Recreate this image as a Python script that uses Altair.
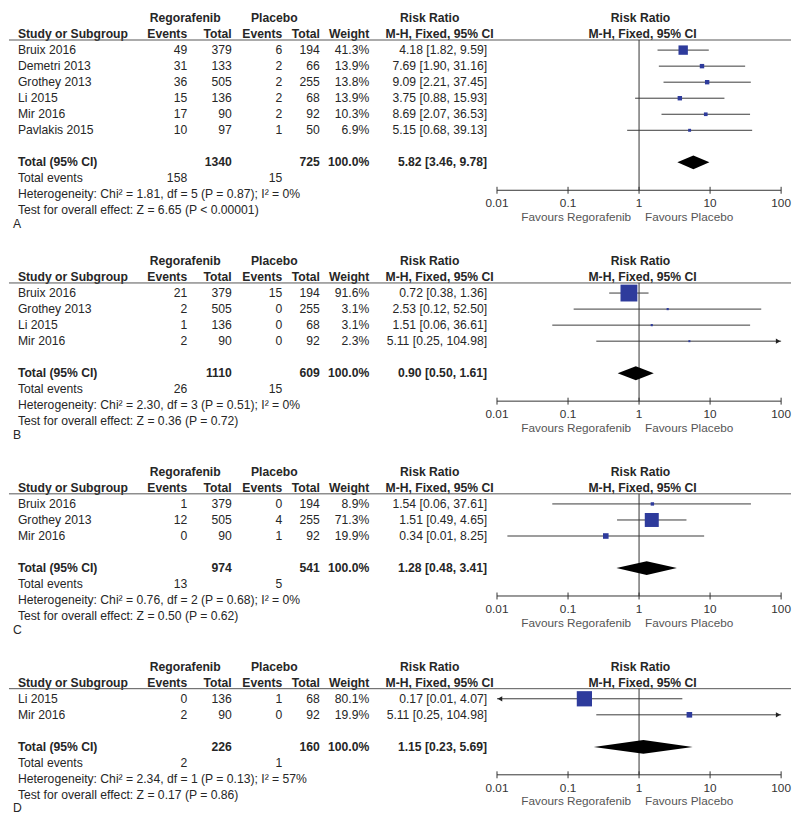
import altair as alt
import pandas as pd

# ---------------- data ----------------
A_study = ["Bruix 2016", "Demetri 2013", "Grothey 2013", "Li 2015", "Mir 2016", "Pavlakis 2015"]
A_reg_events = [49, 31, 36, 15, 17, 10]
A_reg_total = [379, 133, 505, 136, 90, 97]
A_pla_events = [6, 2, 2, 2, 2, 1]
A_pla_total = [194, 66, 255, 68, 92, 50]
A_weight = [41.3, 13.9, 13.8, 13.9, 10.3, 6.9]
A_rr = [4.18, 7.69, 9.09, 3.75, 8.69, 5.15]
A_lo = [1.82, 1.90, 2.21, 0.88, 2.07, 0.68]
A_hi = [9.59, 31.16, 37.45, 15.93, 36.53, 39.13]
A_total_n = [1340, 725]
A_total_events = [158, 15]
A_total_weight = 100.0
A_total_rr = [5.82, 3.46, 9.78]
A_het = "Heterogeneity: Chi² = 1.81, df = 5 (P = 0.87); I² = 0%"
A_test = "Test for overall effect: Z = 6.65 (P < 0.00001)"

B_study = ["Bruix 2016", "Grothey 2013", "Li 2015", "Mir 2016"]
B_reg_events = [21, 2, 1, 2]
B_reg_total = [379, 505, 136, 90]
B_pla_events = [15, 0, 0, 0]
B_pla_total = [194, 255, 68, 92]
B_weight = [91.6, 3.1, 3.1, 2.3]
B_rr = [0.72, 2.53, 1.51, 5.11]
B_lo = [0.38, 0.12, 0.06, 0.25]
B_hi = [1.36, 52.50, 36.61, 104.98]
B_total_n = [1110, 609]
B_total_events = [26, 15]
B_total_weight = 100.0
B_total_rr = [0.90, 0.50, 1.61]
B_het = "Heterogeneity: Chi² = 2.30, df = 3 (P = 0.51); I² = 0%"
B_test = "Test for overall effect: Z = 0.36 (P = 0.72)"

C_study = ["Bruix 2016", "Grothey 2013", "Mir 2016"]
C_reg_events = [1, 12, 0]
C_reg_total = [379, 505, 90]
C_pla_events = [0, 4, 1]
C_pla_total = [194, 255, 92]
C_weight = [8.9, 71.3, 19.9]
C_rr = [1.54, 1.51, 0.34]
C_lo = [0.06, 0.49, 0.014]
C_hi = [37.61, 4.65, 8.25]
C_total_n = [974, 541]
C_total_events = [13, 5]
C_total_weight = 100.0
C_total_rr = [1.28, 0.48, 3.41]
C_het = "Heterogeneity: Chi² = 0.76, df = 2 (P = 0.68); I² = 0%"
C_test = "Test for overall effect: Z = 0.50 (P = 0.62)"

D_study = ["Li 2015", "Mir 2016"]
D_reg_events = [0, 2]
D_reg_total = [136, 90]
D_pla_events = [1, 0]
D_pla_total = [68, 92]
D_weight = [80.1, 19.9]
D_rr = [0.17, 5.11]
D_lo = [0.007, 0.25]
D_hi = [4.07, 104.98]
D_total_n = [226, 160]
D_total_events = [2, 1]
D_total_weight = 100.0
D_total_rr = [1.15, 0.23, 5.69]
D_het = "Heterogeneity: Chi² = 2.34, df = 1 (P = 0.13); I² = 57%"
D_test = "Test for overall effect: Z = 0.17 (P = 0.86)"

tick_values = [0.01, 0.1, 1, 10, 100]
tick_labels = ["0.01", "0.1", "1", "10", "100"]
favours = ["Favours Regorafenib", "Favours Placebo"]
group_headers = ["Regorafenib", "Placebo", "Risk Ratio"]
col_headers = ["Study or Subgroup", "Events", "Total", "Events", "Total", "Weight", "M-H, Fixed, 95% CI"]

panels = [
    ("A", A_study, A_reg_events, A_reg_total, A_pla_events, A_pla_total, A_weight, A_rr, A_lo, A_hi,
     A_total_n, A_total_events, A_total_weight, A_total_rr, A_het, A_test),
    ("B", B_study, B_reg_events, B_reg_total, B_pla_events, B_pla_total, B_weight, B_rr, B_lo, B_hi,
     B_total_n, B_total_events, B_total_weight, B_total_rr, B_het, B_test),
    ("C", C_study, C_reg_events, C_reg_total, C_pla_events, C_pla_total, C_weight, C_rr, C_lo, C_hi,
     C_total_n, C_total_events, C_total_weight, C_total_rr, C_het, C_test),
    ("D", D_study, D_reg_events, D_reg_total, D_pla_events, D_pla_total, D_weight, D_rr, D_lo, D_hi,
     D_total_n, D_total_events, D_total_weight, D_total_rr, D_het, D_test),
]

# ---------------- layout ----------------
W, H = 790, 809
S = 16.2                              # px per text line
TOP = 5.0
GAPS = [3.15, 3.15, 3.15, 0]          # lines from "Test" row to next panel header
LETTER = 0.84
XMIN, XMAX = 0.01, 100.0
FONT = "Liberation Sans"
FS = 12.3
FS_AX = 11.9
TXT = "#262626"
BLUE = "#2E3B9C"

COL = dict(label=9, e1=180, n1=225, e2=276, n2=314, w=364, ci=483,
           reg=178, pla=268, rrh=425, mh=435, rrh2=638, mh2=640, letter=4)


def fci(r, l, h):
    return f"{r:.2f} [{l:.2f}, {h:.2f}]"


texts, forest, arrows, diam, struct, ticks = [], [], [], [], [], []
L0 = 0.0
for k, (letter, study, e1, n1, e2, n2, w, rr, lo, hi, tn, te, tw, trr, het, test) in enumerate(panels):
    texts += [
        (L0, COL["reg"], "center", True, group_headers[0]),
        (L0, COL["pla"], "center", True, group_headers[1]),
        (L0, COL["rrh"], "center", True, group_headers[2]),
        (L0, COL["rrh2"], "center", True, group_headers[2]),
        (L0 + 1, COL["label"], "left", True, col_headers[0]),
        (L0 + 1, COL["e1"], "right", True, col_headers[1]),
        (L0 + 1, COL["n1"], "right", True, col_headers[2]),
        (L0 + 1, COL["e2"], "right", True, col_headers[3]),
        (L0 + 1, COL["n2"], "right", True, col_headers[4]),
        (L0 + 1, COL["w"], "right", True, col_headers[5]),
        (L0 + 1, COL["mh"], "center", True, col_headers[6]),
        (L0 + 1, COL["mh2"], "center", True, col_headers[6]),
    ]
    for i in range(len(study)):
        ln = L0 + 2 + i
        texts += [
            (ln, COL["label"], "left", False, study[i]),
            (ln, COL["e1"], "right", False, str(e1[i])),
            (ln, COL["n1"], "right", False, str(n1[i])),
            (ln, COL["e2"], "right", False, str(e2[i])),
            (ln, COL["n2"], "right", False, str(n2[i])),
            (ln, COL["w"], "right", False, f"{w[i]:.1f}%"),
            (ln, COL["ci"], "right", False, fci(rr[i], lo[i], hi[i])),
        ]
        forest.append(dict(panel=letter, line=ln, rr=rr[i], w=w[i],
                           lo_c=max(lo[i], XMIN), hi_c=min(hi[i], XMAX)))
        if lo[i] < XMIN:
            arrows.append(dict(line=ln, x=XMIN, side="left"))
        if hi[i] > XMAX:
            arrows.append(dict(line=ln, x=XMAX, side="right"))
    lt = L0 + 2 + len(study) + 1
    texts += [
        (lt, COL["label"], "left", True, "Total (95% CI)"),
        (lt, COL["n1"], "right", True, str(tn[0])),
        (lt, COL["n2"], "right", True, str(tn[1])),
        (lt, COL["w"], "right", True, f"{tw:.1f}%"),
        (lt, COL["ci"], "right", True, fci(*trr)),
        (lt + 1, COL["label"], "left", False, "Total events"),
        (lt + 1, COL["e1"], "right", False, str(te[0])),
        (lt + 1, COL["e2"], "right", False, str(te[1])),
        (lt + 2, COL["label"], "left", False, het),
        (lt + 3, COL["label"], "left", False, test),
        (lt + 3 + LETTER, COL["letter"], "left", False, letter),
    ]
    h = 7.0 / S
    diam += [
        dict(panel=letter, x=trr[1], y1=lt, y2=lt),
        dict(panel=letter, x=trr[0], y1=lt - h, y2=lt + h),
        dict(panel=letter, x=trr[2], y1=lt, y2=lt),
    ]
    hline = L0 + 1 + 6.0 / S
    axis = lt + 1 + 12.0 / S
    struct.append(dict(panel=letter, hline=hline, axis=axis, one=1.0, xmin=XMIN, xmax=XMAX,
                       lab=axis + 13.0 / S, fav=axis + 27.0 / S,
                       favL=favours[0], favR=favours[1]))
    for tv, tl in zip(tick_values, tick_labels):
        ticks.append(dict(x=tv, label=tl, y1=axis - 3.5 / S, y2=axis + 3.5 / S, lab=axis + 13.0 / S))
    L0 = lt + 3 + GAPS[k]

df_text = pd.DataFrame(texts, columns=["line", "px", "align", "bold", "text"])
df_forest = pd.DataFrame(forest)
df_arrows = pd.DataFrame(arrows)
df_diam = pd.DataFrame(diam)
df_struct = pd.DataFrame(struct)
df_ticks = pd.DataFrame(ticks)

ys = alt.Scale(domain=[-TOP / S, (H - TOP) / S], range=[0, H], zero=False, nice=False)
pxs = alt.Scale(domain=[0, W], range=[0, W], zero=False, nice=False)
xs = alt.Scale(type="log", domain=[XMIN, XMAX], range=[493, 780], nice=False)

layers = []
for align in ["left", "right", "center"]:
    for bold in [False, True]:
        sub = df_text[(df_text["align"] == align) & (df_text["bold"] == bold)]
        if len(sub) == 0:
            continue
        layers.append(
            alt.Chart(sub).mark_text(align=align, baseline="middle", font=FONT, fontSize=FS,
                                     fontWeight="bold" if bold else "normal", color=TXT)
            .encode(x=alt.X("px:Q", scale=pxs, axis=None),
                    y=alt.Y("line:Q", scale=ys, axis=None),
                    text="text:N")
        )

layers.append(
    alt.Chart(df_struct).mark_rule(color="#555555", strokeWidth=1)
    .encode(x=alt.value(0), x2=alt.value(W), y=alt.Y("hline:Q", scale=ys, axis=None))
)
layers.append(
    alt.Chart(df_struct).mark_rule(color="#333333", strokeWidth=1)
    .encode(x=alt.X("one:Q", scale=xs, axis=None), y=alt.Y("hline:Q", scale=ys, axis=None), y2="axis:Q")
)
layers.append(
    alt.Chart(df_struct).mark_rule(color="#333333", strokeWidth=1)
    .encode(x=alt.X("xmin:Q", scale=xs, axis=None), x2="xmax:Q", y=alt.Y("axis:Q", scale=ys, axis=None))
)
layers.append(
    alt.Chart(df_ticks).mark_rule(color="#333333", strokeWidth=1)
    .encode(x=alt.X("x:Q", scale=xs, axis=None), y=alt.Y("y1:Q", scale=ys, axis=None), y2="y2:Q")
)
layers.append(
    alt.Chart(df_ticks).mark_text(baseline="middle", align="center", font=FONT, fontSize=FS_AX, color="#333333")
    .encode(x=alt.X("x:Q", scale=xs, axis=None), y=alt.Y("lab:Q", scale=ys, axis=None), text="label:N")
)
layers.append(
    alt.Chart(df_struct).mark_text(baseline="middle", align="right", dx=-8, font=FONT, fontSize=FS_AX, color="#555555")
    .encode(x=alt.X("one:Q", scale=xs, axis=None), y=alt.Y("fav:Q", scale=ys, axis=None), text="favL:N")
)
layers.append(
    alt.Chart(df_struct).mark_text(baseline="middle", align="left", dx=6, font=FONT, fontSize=FS_AX, color="#555555")
    .encode(x=alt.X("one:Q", scale=xs, axis=None), y=alt.Y("fav:Q", scale=ys, axis=None), text="favR:N")
)
layers.append(
    alt.Chart(df_forest).mark_rule(color="#3a3a3a", strokeWidth=1)
    .encode(x=alt.X("lo_c:Q", scale=xs, axis=None), x2="hi_c:Q", y=alt.Y("line:Q", scale=ys, axis=None))
)
for side, shape, off in [("right", "triangle-right", -3), ("left", "triangle-left", 3)]:
    sub = df_arrows[df_arrows["side"] == side]
    if len(sub):
        layers.append(
            alt.Chart(sub).mark_point(shape=shape, filled=True, color="#222222", opacity=1, size=28, xOffset=off)
            .encode(x=alt.X("x:Q", scale=xs, axis=None), y=alt.Y("line:Q", scale=ys, axis=None))
        )
layers.append(
    alt.Chart(df_forest).mark_square(filled=True, color=BLUE, opacity=1)
    .encode(x=alt.X("rr:Q", scale=xs, axis=None), y=alt.Y("line:Q", scale=ys, axis=None),
            size=alt.Size("w:Q", scale=alt.Scale(type="pow", exponent=1.5, domain=[0, 100], range=[3, 330]),
                          legend=None))
)
layers.append(
    alt.Chart(df_diam).mark_area(color="#000000", opacity=1, interpolate="linear")
    .encode(x=alt.X("x:Q", scale=xs, axis=None), y=alt.Y("y1:Q", scale=ys, axis=None), y2="y2:Q",
            detail="panel:N")
)

chart = (
    alt.layer(*layers)
    .resolve_scale(x="independent")
    .properties(width=W, height=H, padding=0, background="white")
    .configure_view(stroke=None)
)

chart.save("out.html", embed_options={"renderer": "svg", "actions": False})
